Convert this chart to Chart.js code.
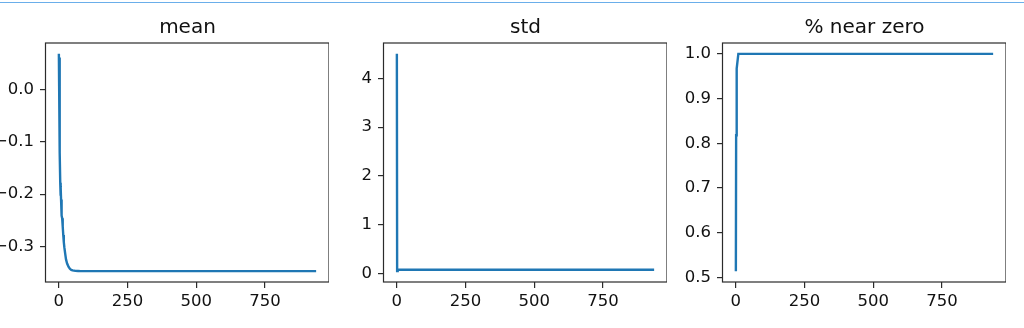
<!DOCTYPE html>
<html>
<head>
<meta charset="utf-8">
<script src="https://cdn.jsdelivr.net/npm/chart.js@4.4.0/dist/chart.umd.min.js"></script>
<style>
  html, body { margin: 0; padding: 0; background: #fff; }
  body { width: 1024px; height: 328px; position: relative; overflow: hidden; }
  .topline { position: absolute; left: 0; top: 2px; width: 1024px; height: 1px; background: #6aaeea; }
  canvas { position: absolute; top: 0; }
</style>
</head>
<body>
<div class="topline"></div>
<canvas id="meanChart" width="343" height="328" style="left:-14px"></canvas>
<canvas id="stdChart" width="343" height="328" style="left:324px"></canvas>
<canvas id="zeroChart" width="343" height="328" style="left:663px"></canvas>
<script>
// iteration index and values
const meanX = [0, 1, 2, 3, 4, 5, 6, 7, 8, 10, 12, 14, 16, 18, 20, 23, 26, 30, 35, 40, 45, 50, 60, 70, 80, 100, 936];
const meanY = [0.069, 0.007, 0.062, 0.01, -0.12, -0.178, -0.203, -0.186, -0.21, -0.241, -0.246, -0.262, -0.278, -0.292, -0.302, -0.314, -0.325, -0.333, -0.339, -0.343, -0.345, -0.346, -0.347, -0.3472, -0.3474, -0.3475, -0.3475];

const stdX = [0, 1, 3, 6, 10, 936];
const stdY = [4.50, 0.05, 0.06, 0.078, 0.077, 0.077];

const zeroX = [0, 1, 2, 4, 9, 936];
const zeroY = [0.514, 0.818, 0.88, 0.967, 1.0, 1.0];

const xTicks = [0, 250, 500, 750];
const meanTicks = [0.0, -0.1, -0.2, -0.3];
const stdTicks = [0, 1, 2, 3, 4];
const zeroTicks = [0.5, 0.6, 0.7, 0.8, 0.9, 1.0];

const TEXT = "#111";
const FRAME = "#2b2b2b";
const BLUE = "#1f77b4";

// matplotlib style frame around the plot area
const framePlugin = {
  id: "frame",
  afterDraw(chart) {
    const a = chart.chartArea, c = chart.ctx;
    c.save();
    c.strokeStyle = FRAME;
    c.lineWidth = 1.2;
    c.strokeRect(a.left - 0.5, a.top, a.right - a.left + 0.5, a.bottom - a.top);
    c.restore();
  }
};

function padded(lo, hi) {
  const m = (hi - lo) * 0.05;
  return [lo - m, hi + m];
}

function fmt(v, dec) {
  return v.toFixed(dec).replace("-", "\u2212");
}

function makeChart(id, title, xs, ys, yTicks, dec) {
  const [xmin, xmax] = padded(Math.min(...xs), Math.max(...xs));
  const [ymin, ymax] = padded(Math.min(...ys), Math.max(...ys));
  const font = { family: "'DejaVu Sans', sans-serif", size: 16.5 };
  const gridOpts = { display: true, drawOnChartArea: false, drawTicks: true, tickLength: 6, color: FRAME, lineWidth: 1.2 };

  new Chart(document.getElementById(id), {
    type: "line",
    data: {
      datasets: [{
        data: xs.map((x, i) => ({ x: x, y: ys[i] })),
        borderColor: BLUE,
        borderWidth: 2.4,
        pointRadius: 0,
        tension: 0,
        fill: false
      }]
    },
    options: {
      responsive: false,
      animation: false,
      layout: { padding: 0 },
      plugins: {
        legend: { display: false },
        tooltip: { enabled: false },
        title: {
          display: true,
          text: title,
          fullSize: false,
          color: TEXT,
          font: { family: "'DejaVu Sans', sans-serif", size: 20, weight: "normal", lineHeight: 1.2 },
          padding: { top: 16, bottom: 3 }
        }
      },
      scales: {
        x: {
          type: "linear",
          min: xmin,
          max: xmax,
          grid: gridOpts,
          border: { display: false },
          ticks: { color: TEXT, font: font, padding: 4, maxRotation: 0, callback: v => String(v) },
          afterBuildTicks: s => { s.ticks = xTicks.map(v => ({ value: v })); },
          afterFit: s => { s.height = 46; }
        },
        y: {
          type: "linear",
          min: ymin,
          max: ymax,
          grid: gridOpts,
          border: { display: false },
          ticks: { color: TEXT, font: font, padding: 6, callback: v => fmt(v, dec) },
          afterBuildTicks: s => { s.ticks = yTicks.map(v => ({ value: v })); },
          afterFit: s => { s.width = 60; }
        }
      }
    },
    plugins: [framePlugin]
  });
}

makeChart("meanChart", "mean", meanX, meanY, meanTicks, 1);
makeChart("stdChart", "std", stdX, stdY, stdTicks, 0);
makeChart("zeroChart", "% near zero", zeroX, zeroY, zeroTicks, 1);
</script>
</body>
</html>
